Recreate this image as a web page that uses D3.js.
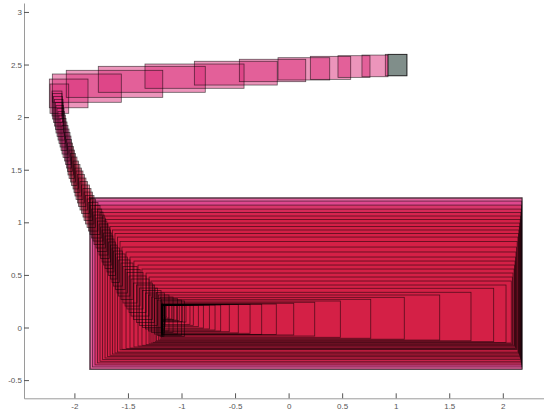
<!DOCTYPE html>
<html><head><meta charset="utf-8">
<style>html,body{margin:0;padding:0;background:#fff}svg{display:block}</style>
<script src="https://cdnjs.cloudflare.com/ajax/libs/d3/7.8.5/d3.min.js"></script>
</head><body><svg id="c" width="544" height="410"></svg>
<script>
const xTicks=[-2,-1.5,-1,-0.5,0,0.5,1,1.5,2];
const yTicks=[-0.5,0,0.5,1,1.5,2,2.5,3];
const lefts=[-1.859,-1.850,-1.831,-1.808,-1.784,-1.761,-1.737,-1.714,-1.691,-1.667,-1.644,-1.621,-1.597,-1.574,-1.556,-1.518,-1.481,-1.444,-1.406,-1.369,-1.331,-1.303,-1.285,-1.266,-1.247,-1.233,-1.215,-1.200,-1.188,
-1.182,-1.182,-1.182,-1.182,-1.182,-1.182,-1.182,-1.182,-1.182,-1.182,-1.182,-1.182,-1.182,-1.182,-1.182,-1.182,-1.182,-1.182,-1.182,-1.182,-1.182,-1.182,-1.182,-1.182,-1.182,
-1.182,-1.182,-1.182,-1.182,-1.182,-1.182,-1.182,
-1.201,-1.224,-1.252,-1.280,-1.308,-1.336,-1.364,-1.392,-1.420,-1.448,-1.471,-1.490,-1.509,-1.527,-1.546,-1.565,-1.588,-1.602,-1.616,-1.635,-1.649,-1.663,-1.682,-1.696,-1.714,-1.728,-1.742,-1.756,-1.770,-1.784,-1.798,-1.817,-1.826,-1.840,-1.854,-1.868,-1.882,-1.896,-1.910,-1.920,-1.934,-1.948,-1.962,-1.971,-1.985,-1.995,-2.004,-2.013,-2.027,-2.036,-2.050,-2.060,-2.064,-2.074,-2.083,-2.092,-2.106,-2.116,-2.125,-2.134,-2.144,-2.153,-2.162,-2.172,-2.176,-2.186,-2.195,-2.204,-2.209,
-2.228,-2.234,-2.206,-2.076,-1.777,-1.341,-0.880,-0.460,-0.099,0.203,0.461,0.685,0.903,0.928];
const rights=[2.181,2.179,2.177,2.174,2.172,2.169,2.165,2.162,2.158,2.154,2.150,2.146,2.141,2.134,2.127,2.123,2.119,2.114,2.109,2.105,2.095,2.089,2.079,2.030,1.915,1.703,1.411,1.080,0.767,0.483,0.244,0.048,-0.115,-0.251,-0.360,-0.470,-0.554,-0.634,-0.687,-0.740,-0.796,-0.843,-0.890,-0.921,-0.958,-0.989,-1.021,-1.045,-1.070,-1.091,-1.117,-1.138,-1.154,-1.170,
-1.154,-1.154,-1.154,-1.159,-1.159,-1.164,-1.164,
-0.972,-1.000,-1.037,-1.079,-1.117,-1.159,-1.191,-1.224,-1.252,-1.271,-1.303,-1.331,-1.359,-1.387,-1.415,-1.453,-1.481,-1.504,-1.527,-1.551,-1.579,-1.602,-1.616,-1.630,-1.640,-1.651,-1.662,-1.674,-1.686,-1.697,-1.710,-1.722,-1.733,-1.745,-1.761,-1.780,-1.803,-1.817,-1.831,-1.845,-1.859,-1.878,-1.892,-1.906,-1.920,-1.934,-1.948,-1.962,-1.976,-1.990,-1.999,-2.008,-2.018,-2.027,-2.032,-2.041,-2.050,-2.060,-2.069,-2.078,-2.083,-2.092,-2.097,-2.102,-2.106,-2.106,-2.111,-2.116,-2.116,
-2.053,-1.873,-1.562,-1.175,-0.778,-0.416,-0.106,0.160,0.384,0.580,0.760,0.928,1.105,1.105];
const tops=[1.236,1.226,1.202,1.164,1.126,1.093,1.060,1.027,0.993,0.960,0.927,0.894,0.860,0.818,0.765,0.718,0.670,0.632,0.594,0.556,0.518,0.480,0.442,0.404,0.373,0.335,0.309,0.287,0.268,0.252,0.240,0.230,0.223,0.221,0.220,0.218,0.216,0.214,0.214,0.213,0.213,0.212,0.212,0.211,0.211,0.210,0.210,0.209,0.209,0.209,0.208,0.208,0.207,0.207,
0.208,0.210,0.212,0.214,0.216,0.218,0.220,
0.252,0.261,0.276,0.290,0.309,0.328,0.352,0.375,0.404,0.423,0.461,0.490,0.523,0.551,0.580,0.613,0.642,0.670,0.699,0.727,0.756,0.784,0.813,0.841,0.870,0.898,0.927,0.955,0.984,1.012,1.041,1.069,1.098,1.126,1.160,1.188,1.222,1.255,1.288,1.321,1.355,1.388,1.421,1.454,1.488,1.516,1.549,1.583,1.621,1.654,1.687,1.721,1.754,1.787,1.820,1.854,1.887,1.920,1.954,1.987,2.020,2.053,2.082,2.110,2.139,2.167,2.196,2.224,2.248,
2.315,2.362,2.410,2.445,2.483,2.505,2.531,2.550,2.565,2.578,2.584,2.590,2.597,2.597];
const bottoms=[-0.399,-0.395,-0.375,-0.356,-0.337,-0.321,-0.304,-0.290,-0.276,-0.264,-0.252,-0.242,-0.233,-0.212,-0.207,-0.200,-0.195,-0.185,-0.176,-0.169,-0.163,-0.155,-0.147,-0.142,-0.134,-0.126,-0.119,-0.111,-0.102,-0.093,-0.081,-0.071,-0.067,-0.065,-0.055,-0.052,-0.040,-0.033,-0.024,-0.014,-0.005,0.008,0.021,0.030,0.052,0.057,0.065,0.071,0.076,0.081,0.090,0.100,0.111,0.119,
0.062,0.033,0.005,-0.024,-0.052,-0.071,-0.086,
-0.086,-0.076,-0.062,-0.048,-0.033,-0.014,0,0.019,0.048,0.076,0.109,0.143,0.176,0.204,0.233,0.266,0.299,0.328,0.361,0.394,0.428,0.461,0.494,0.528,0.561,0.594,0.623,0.656,0.689,0.722,0.756,0.789,0.822,0.851,0.884,0.917,0.951,0.984,1.017,1.050,1.084,1.117,1.150,1.184,1.217,1.250,1.283,1.317,1.350,1.383,1.416,1.450,1.483,1.516,1.549,1.583,1.616,1.649,1.683,1.716,1.749,1.782,1.816,1.849,1.882,1.915,1.949,1.982,2.011,
2.036,2.089,2.141,2.188,2.236,2.274,2.305,2.337,2.353,2.359,2.378,2.384,2.393,2.393];

const svg=d3.select('#c');
const x=d3.scaleLinear().domain([-2.4706,2.3847]).range([24,544]);
const y=d3.scaleLinear().domain([-0.673,3.085]).range([398.3,3]);
const n=lefts.length;
const fillOf=i=>{
  if(i===n-1) return '#14885a';
  if(i<3) return '#d92d7d';
  if(i<n-30) return '#d41f45';
  return '#da2b78';
};
const place=s=>s
  .attr('x',i=>x(lefts[i])).attr('y',i=>y(tops[i]))
  .attr('width',i=>x(rights[i])-x(lefts[i])).attr('height',i=>y(bottoms[i])-y(tops[i]));
svg.append('g').selectAll('rect').data(d3.range(n)).join('rect').call(place)
  .attr('fill',fillOf).attr('fill-opacity',0.5).attr('stroke','none');
svg.append('g').selectAll('rect').data(d3.range(n)).join('rect').call(place)
  .attr('fill','none').attr('stroke','#000').attr('stroke-opacity',0.6).attr('stroke-width',0.8);

const ax=svg.append('g').attr('transform','translate(0,398.3)')
  .call(d3.axisBottom(x).tickValues(xTicks).tickFormat(d=>d).tickSizeInner(-5).tickSizeOuter(0).tickPadding(5));
const ay=svg.append('g').attr('transform','translate(24,0)')
  .call(d3.axisLeft(y).tickValues(yTicks).tickFormat(d=>d).tickSizeInner(-5).tickSizeOuter(0).tickPadding(2));
[ax,ay].forEach(a=>{
  a.select('.domain').attr('stroke','#9a9a9a').attr('stroke-width',1);
  a.selectAll('.tick line').attr('stroke','#555');
  a.selectAll('text').attr('fill','#555').style('font-family','"Liberation Sans",sans-serif').style('font-size','8px');
});
ax.selectAll('text').attr('y',5).attr('dy','0.71em');
</script></body></html>
